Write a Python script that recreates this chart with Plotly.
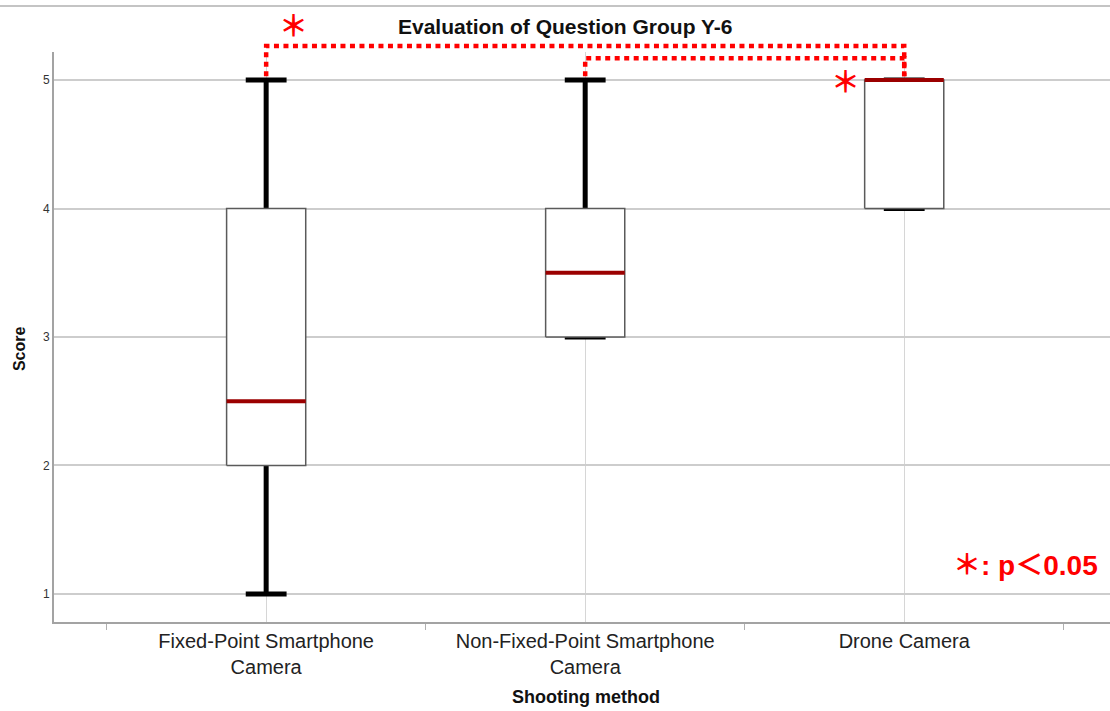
import plotly.graph_objects as go

# Five-number summaries per shooting method
methods = ["Fixed-Point Smartphone<br>Camera", "Non-Fixed-Point Smartphone<br>Camera", "Drone Camera"]
minimum = [1, 3, 4]
q1 = [2, 3, 4]
median = [2.5, 3.5, 5]
q3 = [4, 4, 5]
maximum = [5, 5, 5]
score_ticks = [1, 2, 3, 4, 5]

# Significant pairs (group index a, group index b) and bracket height in score units
sig_pairs = [(0, 2, 5.265), (1, 2, 5.17)]

FONT = "Liberation Sans, Arial, Noto Sans CJK JP, sans-serif"
Y_RANGE = [0.782, 5.218]
X_RANGE = [-0.665, 2.645]
BOX_HALF = 0.124
CAP_HALF = 0.064

pos = list(range(len(methods)))


def y_to_paper(v):
    return (v - Y_RANGE[0]) / (Y_RANGE[1] - Y_RANGE[0])


fig = go.Figure()

# whiskers + caps (drawn first so the boxes sit on top of them)
wx, wy = [], []
for i in pos:
    wx += [i, i, None, i - CAP_HALF, i + CAP_HALF, None, i - CAP_HALF, i + CAP_HALF, None]
    wy += [minimum[i], maximum[i], None, minimum[i], minimum[i], None, maximum[i], maximum[i], None]
fig.add_trace(go.Scatter(x=wx, y=wy, mode="lines", line=dict(color="black", width=5),
                         hoverinfo="skip", showlegend=False))

# interquartile boxes
bx, by = [], []
for i in pos:
    bx += [i - BOX_HALF, i + BOX_HALF, i + BOX_HALF, i - BOX_HALF, i - BOX_HALF, None]
    by += [q1[i], q1[i], q3[i], q3[i], q1[i], None]
fig.add_trace(go.Scatter(x=bx, y=by, mode="lines", fill="toself", fillcolor="white",
                         line=dict(color="#5a5a5a", width=1.5), hoverinfo="skip", showlegend=False))

# medians
mx, my = [], []
for i in pos:
    mx += [i - BOX_HALF, i + BOX_HALF, None]
    my += [median[i], median[i], None]
fig.add_trace(go.Scatter(x=mx, y=my, mode="lines", line=dict(color="#9b0000", width=4),
                         hoverinfo="skip", showlegend=False))

shapes = []
# significance brackets
foot = y_to_paper(max(maximum) + 0.03)
for a, b, h in sig_pairs:
    top = y_to_paper(h)
    shapes.append(dict(type="path", xref="x", yref="paper",
                       path=f"M {a},{foot} L {a},{top} L {b},{top} L {b},{foot}",
                       line=dict(color="#ff0000", width=4.5, dash="5px,4.5px")))
# frame line across the top
shapes.append(dict(type="line", xref="paper", yref="paper", x0=-0.06, x1=1.0,
                   y0=1.0807, y1=1.0807, line=dict(color="#c4c4c4", width=2)))


def note(text, x, y, size, color="#111", xref="paper", **kw):
    d = dict(text=text, xref=xref, yref="paper", x=x, y=y, showarrow=False,
             xanchor="center", yanchor="middle",
             font=dict(family=FONT, size=size, color=color))
    d.update(kw)
    return d


annotations = [
    note("<b>Evaluation of Question Group Y-6</b>", 0.484, 1.044, 21),
    note("<b>Shooting method</b>", 0.504, -0.1316, 18),
    note("<b>Score</b>", -0.0321, 0.479, 16, textangle=-90),
    note("<b>＊: p＜0.05</b>", 0.9905, 0.1, 28, color="#ff0000", xanchor="right"),
    note("<b>＊</b>", 0, y_to_paper(5.41), 29, color="#ff0000", xref="x", xshift=27),
    note("<b>＊</b>", 2, y_to_paper(4.98), 29, color="#ff0000", xref="x", xshift=-59),
]

fig.update_layout(
    width=1110, height=711,
    margin=dict(l=54, r=0, t=52, b=89),
    paper_bgcolor="white", plot_bgcolor="white",
    font=dict(family=FONT, color="#222"),
    shapes=shapes, annotations=annotations,
    xaxis=dict(range=X_RANGE, tickvals=pos, ticktext=methods, ticks="",
               showgrid=True, gridcolor="#d6d6d6", gridwidth=1, zeroline=False,
               showline=True, linecolor="#a3a3a3", linewidth=2,
               tickfont=dict(family=FONT, size=20, color="#222"),
               minor=dict(tickvals=[-0.5, 0.5, 1.5, 2.5], ticks="outside", ticklen=6,
                          tickcolor="#b0b0b0", tickwidth=1, showgrid=False)),
    yaxis=dict(range=Y_RANGE, tickvals=score_ticks, ticks="", showgrid=True,
               gridcolor="#cdcdcd", gridwidth=1.5, zeroline=False,
               showline=True, linecolor="#a3a3a3", linewidth=2,
               tickfont=dict(family=FONT, size=12, color="#333")),
)

fig.write_html("out.html")
